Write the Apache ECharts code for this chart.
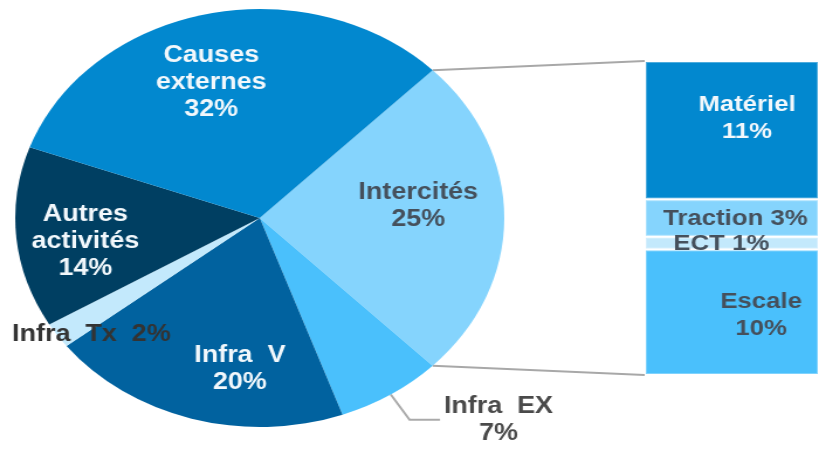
<!DOCTYPE html>
<html>
<head>
<meta charset="utf-8">
<script src="https://cdn.jsdelivr.net/npm/echarts@6/dist/echarts.min.js"></script>
<style>
  html, body { margin: 0; padding: 0; background: #fff; overflow: hidden; }
  /* the reference is a horizontally stretched picture, so the chart is drawn narrower and stretched */
  #chart { width: 700px; height: 449px; transform: scaleX(1.17); transform-origin: 0 0; }
</style>
</head>
<body>
<div id="chart"></div>
<script>
// pie slices, clockwise from upper right
const PIE_NAMES = ['Intercités', 'Infra EX', 'Infra V', 'Infra Tx', 'Autres activités', 'Causes externes'];
const PIE_VALUES = [25, 7, 20, 2, 14, 32];
const PIE_LABELS = ['Intercités\n25%', 'Infra  EX\n7%', 'Infra  V\n20%', 'Infra  Tx  2%', 'Autres\nactivités\n14%', 'Causes\nexternes\n32%'];
const PIE_COLORS = ['#85d4fd', '#4ac0fc', '#01629f', '#c3e9fc', '#003f62', '#0288cf'];
const PIE_TEXT = ['#45505c', '#4a4a4a', '#f2f8fc', '#333', '#f2f8fc', '#f2f8fc'];

// breakdown of Intercités, stacked bottom to top
const BAR_NAMES = ['Escale', 'ECT', 'Traction', 'Matériel'];
const BAR_VALUES = [10, 1, 3, 11];
const BAR_LABELS = ['Escale\n10%', 'ECT 1%', 'Traction 3%', 'Matériel\n11%'];
const BAR_COLORS = ['#4ac0fc', '#c3e9fc', '#85d4fd', '#0288cf'];
const BAR_TEXT = ['#45505c', '#45505c', '#45505c', '#f2f8fc'];

const PIE_CENTER = [222, 218];
const PIE_R = 209;
const START = 45;
const GRID = { left: 551, top: 61, width: 176, height: 314 };
const LABEL_SHIFT = [[28, -12], null, [13, 48], [-55, 56], [-42, 14], [-18, -30]];
const BAR_SHIFT = [[25, 3], [-9, 1], [3, 1], [13, -12]];

const font = { fontFamily: 'Liberation Sans, Arial, sans-serif', fontWeight: 'bold', fontSize: 23, lineHeight: 27 };

// connector lines from the Intercités slice edges to the bar corners
const total = PIE_VALUES.reduce((a, b) => a + b, 0);
const a0 = START * Math.PI / 180;
const a1 = (START - PIE_VALUES[0] / total * 360) * Math.PI / 180;
const p0 = [PIE_CENTER[0] + PIE_R * Math.cos(a0), PIE_CENTER[1] - PIE_R * Math.sin(a0)];
const p1 = [PIE_CENTER[0] + PIE_R * Math.cos(a1), PIE_CENTER[1] - PIE_R * Math.sin(a1)];

const pieData = PIE_NAMES.map((n, i) => {
  const item = {
    name: n,
    value: PIE_VALUES[i],
    itemStyle: { color: PIE_COLORS[i] },
    label: { color: PIE_TEXT[i] },
  };
  if (i === 1) {
    item.label = {
      position: 'outside',
      distanceToLabelLine: 2,
      formatter: '{c|Infra  EX}\n{c|7%}',
      rich: { c: { ...font, color: PIE_TEXT[i], width: 96, align: 'center' } },
    };
    item.labelLine = { show: true, length: 30, length2: 26, smooth: false, lineStyle: { color: '#aaa', width: 2 } };
  }
  return item;
});

const chart = echarts.init(document.getElementById('chart'));
chart.setOption({
  animation: false,
  grid: { ...GRID },
  xAxis: { type: 'category', data: ['Intercités'], show: false },
  yAxis: { type: 'value', min: 0, max: 25, show: false },
  graphic: [
    { type: 'line', z: -1, shape: { x1: p0[0], y1: p0[1], x2: GRID.left, y2: GRID.top }, style: { stroke: '#a8a8a8', lineWidth: 2 } },
    { type: 'line', z: -1, shape: { x1: p1[0], y1: p1[1], x2: GRID.left, y2: GRID.top + GRID.height }, style: { stroke: '#a8a8a8', lineWidth: 2 } },
  ],
  series: [
    {
      type: 'pie',
      center: PIE_CENTER,
      radius: PIE_R,
      startAngle: START,
      clockwise: true,
      avoidLabelOverlap: false,
      emphasis: { disabled: true },
      label: {
        position: 'inside',
        ...font,
        formatter: p => PIE_LABELS[p.dataIndex],
      },
      labelLine: { show: false },
      labelLayout: p => {
        const s = LABEL_SHIFT[p.dataIndex];
        return s ? { dx: s[0], dy: s[1] } : {};
      },
      data: pieData,
    },
    ...BAR_NAMES.map((n, i) => ({
      type: 'bar',
      name: n,
      stack: 'intercites',
      barWidth: '100%',
      emphasis: { disabled: true },
      itemStyle: { color: BAR_COLORS[i], borderColor: 'rgba(255,255,255,0.3)', borderWidth: 2 },
      label: {
        show: true,
        position: 'inside',
        ...font,
        fontSize: 22,
        color: BAR_TEXT[i],
        offset: BAR_SHIFT[i],
        formatter: () => BAR_LABELS[i],
      },
      data: [BAR_VALUES[i]],
    })),
  ],
});
</script>
</body>
</html>
